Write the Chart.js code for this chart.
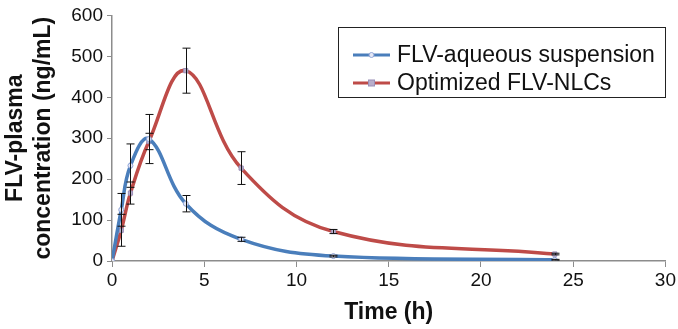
<!DOCTYPE html>
<html>
<head>
<meta charset="utf-8">
<script src="https://cdn.jsdelivr.net/npm/chart.js@4.4.1/dist/chart.umd.min.js"></script>
<style>
  html, body { margin: 0; padding: 0; background: #fff; }
  #wrap { width: 678px; height: 329px; position: relative; }
</style>
</head>
<body>
<div id="wrap"><canvas id="pk-chart"></canvas></div>
<script>
// Plasma concentration-time profile
const timeH = [0, 0.5, 1, 2, 4, 7, 12, 24];
const suspensionMean = [0, 125, 233, 298, 140, 53, 12, 3];
const suspensionSD = [0, 40, 53, 60, 20, 5, 2, 1];
const nlcMean = [0, 75, 166, 292, 465, 227, 72, 17];
const nlcSD = [0, 39, 27, 20, 55, 40, 5, 2];
const seriesLabels = ['FLV-aqueous suspension', 'Optimized FLV-NLCs'];
const xTicks = [0, 5, 10, 15, 20, 25, 30];
const yTicks = [0, 100, 200, 300, 400, 500, 600];

const FONT = "'Liberation Sans', Arial, sans-serif";
const BLUE = '#4a7ebb';
const RED = '#be4b48';
const AXIS = '#8c8c8c';

const toPoints = (xs, ys) => xs.map((x, i) => ({ x: x, y: ys[i] }));

// Error bars drawn through the chart's own scales
const errorBars = {
    id: 'errorBars',
    afterDatasetsDraw(chart) {
        const ctx = chart.ctx;
        const xs = chart.scales.x;
        const ys = chart.scales.y;
        ctx.save();
        ctx.strokeStyle = '#111';
        ctx.lineWidth = 1;
        chart.data.datasets.forEach(ds => {
            ds.sd.forEach((sd, i) => {
                if (!sd) return;
                const p = ds.data[i];
                const px = Math.round(xs.getPixelForValue(p.x)) + 0.5;
                const top = ys.getPixelForValue(p.y + sd);
                const bot = ys.getPixelForValue(p.y - sd);
                ctx.beginPath();
                ctx.moveTo(px, top);
                ctx.lineTo(px, bot);
                ctx.moveTo(px - 4, top);
                ctx.lineTo(px + 4, top);
                ctx.moveTo(px - 4, bot);
                ctx.lineTo(px + 4, bot);
                ctx.stroke();
            });
        });
        ctx.restore();
    }
};

// Boxed legend in the upper right of the plot
const boxLegend = {
    id: 'boxLegend',
    afterDraw(chart) {
        const ctx = chart.ctx;
        ctx.save();
        ctx.strokeStyle = '#222';
        ctx.lineWidth = 1;
        ctx.strokeRect(338.5, 27.5, 327, 70);
        ctx.font = '23px ' + FONT;
        ctx.textBaseline = 'middle';
        ctx.fillStyle = '#111';
        chart.data.datasets.forEach((ds, i) => {
            const y = 55 + i * 28;
            ctx.strokeStyle = ds.borderColor;
            ctx.lineWidth = 3;
            ctx.beginPath();
            ctx.moveTo(353, y);
            ctx.lineTo(390, y);
            ctx.stroke();
            ctx.fillStyle = ds.pointBackgroundColor;
            ctx.strokeStyle = ds.pointBorderColor;
            ctx.lineWidth = 1;
            if (ds.pointStyle === 'rect') {
                ctx.fillRect(368.5, y - 3, 6, 6);
                ctx.strokeRect(368.5, y - 3, 6, 6);
            } else {
                ctx.beginPath();
                ctx.arc(371.5, y, 2.5, 0, Math.PI * 2);
                ctx.fill();
                ctx.stroke();
            }
            ctx.fillStyle = '#111';
            ctx.fillText(ds.label, 397, y + 1);
        });
        ctx.restore();
    }
};

new Chart(document.getElementById('pk-chart'), {
    type: 'scatter',
    data: {
        datasets: [{
            label: seriesLabels[0],
            data: toPoints(timeH, suspensionMean),
            sd: suspensionSD,
            showLine: true,
            tension: 0.4,
            borderColor: BLUE,
            borderWidth: 3.5,
            pointStyle: 'circle',
            pointRadius: 2.5,
            pointBackgroundColor: '#e4e8f6',
            pointBorderColor: '#8fa3d6',
            pointBorderWidth: 1
        }, {
            label: seriesLabels[1],
            data: toPoints(timeH, nlcMean),
            sd: nlcSD,
            showLine: true,
            tension: 0.4,
            borderColor: RED,
            borderWidth: 3.5,
            pointStyle: 'rect',
            pointRadius: 3,
            pointBackgroundColor: '#b9aecb',
            pointBorderColor: '#9a8fb8',
            pointBorderWidth: 1
        }]
    },
    options: {
        responsive: true,
        maintainAspectRatio: false,
        animation: false,
        layout: { padding: { top: 11, right: 11, left: 0, bottom: 0 } },
        plugins: {
            legend: { display: false },
            tooltip: { enabled: false }
        },
        scales: {
            x: {
                type: 'linear',
                min: 0,
                max: 30,
                afterBuildTicks: s => { s.ticks = xTicks.map(v => ({ value: v })); },
                afterFit: s => { s.height = 68; },
                border: { color: AXIS, width: 1.5 },
                grid: { drawOnChartArea: false, drawTicks: true, tickLength: 6, color: AXIS },
                ticks: { color: '#111', font: { family: FONT, size: 19 }, padding: 2, maxRotation: 0 },
                title: {
                    display: true,
                    text: 'Time (h)',
                    color: '#111',
                    font: { family: FONT, size: 23, weight: 'bold' },
                    padding: { top: 0, bottom: 3 }
                }
            },
            y: {
                min: 0,
                max: 600,
                afterBuildTicks: s => { s.ticks = yTicks.map(v => ({ value: v })); },
                afterFit: s => { s.width = 112; },
                border: { color: AXIS, width: 1.5 },
                grid: { drawOnChartArea: false, drawTicks: true, tickLength: 5, color: AXIS },
                ticks: { color: '#111', font: { family: FONT, size: 19 }, padding: 4 },
                title: {
                    display: true,
                    text: ['FLV-plasma', 'concentration (ng/mL)'],
                    color: '#111',
                    font: { family: FONT, size: 23, weight: 'bold', lineHeight: 1.25 },
                    padding: { top: 1, bottom: 0 }
                }
            }
        }
    },
    plugins: [errorBars, boxLegend]
});
</script>
</body>
</html>
